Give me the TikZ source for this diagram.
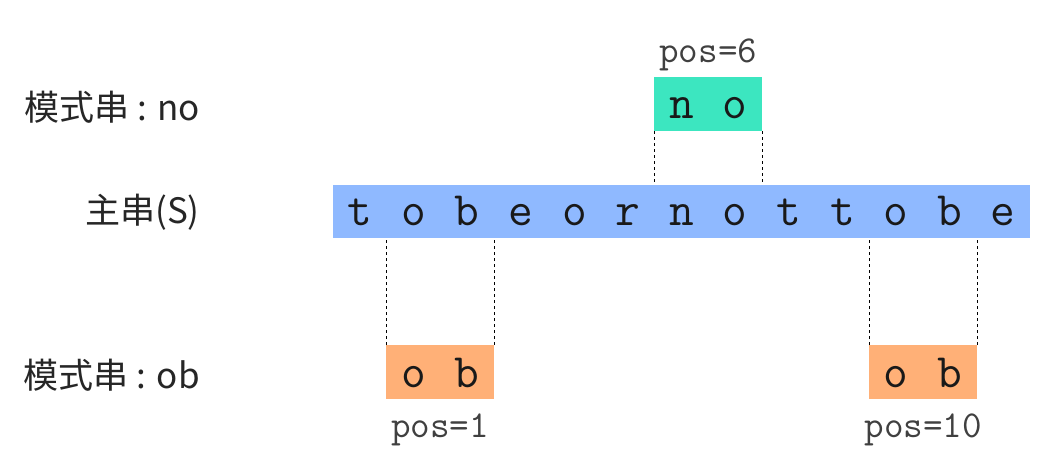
\documentclass[tikz,border=0pt]{standalone}
\usepackage{fontspec}
\setmainfont{Noto Sans CJK SC}
\usetikzlibrary{positioning}
\definecolor{zhulan}{RGB}{143,185,255}
\definecolor{molv}{RGB}{60,230,192}
\definecolor{chengse}{RGB}{255,176,119}
\tikzstyle{zhuchuan} = [fill=zhulan, minimum width=697pt, minimum height=53pt, inner sep=0pt]
\tikzstyle{moshi} = [minimum width=108pt, minimum height=54pt, inner sep=0pt]
\tikzstyle{zifu} = [font=\ttfamily\fontsize{48}{48}\selectfont, anchor=base, inner sep=0pt, text=black!90]
\tikzstyle{weizhi} = [font=\ttfamily\fontsize{38}{38}\selectfont, anchor=base, inner sep=0pt, text=black!75]
\tikzstyle{biaoqian} = [font=\fontsize{35}{35}\selectfont, anchor=base east, inner sep=0pt, text=black!85]
\tikzstyle{xuxian} = [line width=1pt, dash pattern=on 3pt off 3pt]

\begin{document}
\begin{tikzpicture}[x=1pt, y=-1pt]
	\useasboundingbox (0,0) rectangle (1052,458);
	% main string
	\node[zhuchuan, anchor=north west] (S) at (333,185) {};
	\foreach \c [count=\i from 0] in {t,o,b,e,o,r,n,o,t,t,o,b,e}
		\node[zifu] (s\i) at ({360+53.6*\i},225) {\c};
	% patterns
	\node[moshi, fill=molv, anchor=north west] (pno) at (654,77) {};
	\node[moshi, fill=chengse, anchor=north west] (pobA) at (386,345) {};
	\node[moshi, fill=chengse, anchor=north west] (pobB) at (869,345) {};
	\node[zifu] (no1) at (s6.base |- 0,118) {n};
	\node[zifu] (no2) at (s7.base |- 0,118) {o};
	\node[zifu] (obA1) at (s1.base |- 0,387) {o};
	\node[zifu] (obA2) at (s2.base |- 0,387) {b};
	\node[zifu] (obB1) at (s10.base |- 0,387) {o};
	\node[zifu] (obB2) at (s11.base |- 0,387) {b};
	% positions
	\node[weizhi] (pos6) at (pno.north |- 0,62) {pos=6};
	\node[weizhi] (pos1) at (pobA.south |- 0,437) {pos=1};
	\node[weizhi] (pos10) at (pobB.south |- 0,437) {pos=10};
	% dashed guides
	\draw[xuxian] (pno.south west) -- (pno.south west |- S.north);
	\draw[xuxian] (pno.south east) -- (pno.south east |- S.north);
	\draw[xuxian] (pobA.north west) -- (pobA.north west |- S.south);
	\draw[xuxian] (pobA.north east) -- (pobA.north east |- S.south);
	\draw[xuxian] (pobB.north west) -- (pobB.north west |- S.south);
	\draw[xuxian] (pobB.north east) -- (pobB.north east |- S.south);
	% labels
	\node[biaoqian] (lno) at (200,120) {模式串 : no};
	\node[biaoqian] (lS) at (200,223) {主串(S)};
	\node[biaoqian] (lob) at (200,388) {模式串 : ob};
\end{tikzpicture}
\end{document}
